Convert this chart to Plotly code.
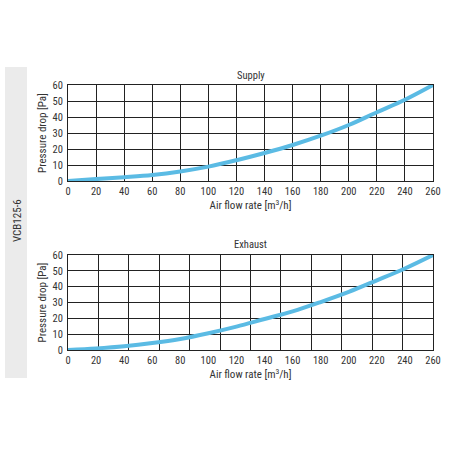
import plotly.graph_objects as go

# Donnees (debit m3/h -> perte de charge Pa)
flow = [0, 20, 40, 60, 80, 100, 120, 140, 160, 180, 200, 220, 240, 260]
supply_pa = [0, 1.2, 2.4, 3.8, 6.0, 9.0, 13.0, 17.5, 22.5, 28.3, 35.0, 43.0, 50.8, 60.0]
exhaust_pa = [0, 1.0, 2.4, 4.4, 7.0, 10.6, 14.8, 19.6, 24.4, 30.3, 36.7, 44.0, 51.5, 60.0]
x_ticks = list(range(0, 261, 20))
y_ticks = [0, 10, 20, 30, 40, 50, 60]
model = "VCB125-6"

W = 456
H = 456
blue = "#5bbbe4"
txt = "#333333"
font_name = "Roboto Condensed, Liberation Sans Narrow, Roboto, sans-serif"


def py(px):
    return 1 - px / H


fig = go.Figure()
fig.add_trace(go.Scatter(x=flow, y=supply_pa, mode="lines", line=dict(color=blue, width=4, shape="spline"),
                         xaxis="x", yaxis="y", hoverinfo="skip"))
fig.add_trace(go.Scatter(x=flow, y=exhaust_pa, mode="lines", line=dict(color=blue, width=4, shape="spline"),
                         xaxis="x2", yaxis="y2", hoverinfo="skip"))
# trace vide pour la grille de la 2e courbe (12 colonnes)
fig.add_trace(go.Scatter(x=[0, 12], y=[0, 60], mode="markers", marker=dict(opacity=0),
                         xaxis="x3", yaxis="y2", hoverinfo="skip"))

xdom = [68 / W, 433 / W]
common_x = dict(range=[0, 260], tickvals=x_ticks, ticks="", showline=True, linecolor="#222", mirror=True,
                tickfont=dict(size=10.5, color=txt), zeroline=False, fixedrange=True, automargin=False)
common_y = dict(range=[0, 60], tickvals=y_ticks, ticks="", showline=True, linecolor="#222", mirror=True,
                showgrid=True, gridcolor="#222", gridwidth=1, tickfont=dict(size=10.5, color=txt),
                zeroline=False, ticklabelstandoff=2, automargin=False, fixedrange=True,
                title=dict(text="Pressure drop [Pa]", font=dict(size=11, color=txt), standoff=3))

fig.update_layout(
    width=W, height=H,
    margin=dict(l=0, r=0, t=0, b=0),
    paper_bgcolor="white", plot_bgcolor="white",
    showlegend=False,
    font=dict(family=font_name, color=txt),
    xaxis=dict(common_x, domain=xdom, anchor="y", showgrid=True, gridcolor="#222",
               title=dict(text="Air flow rate [m<sup>3</sup>/h]", font=dict(size=11, color=txt), standoff=2)),
    yaxis=dict(common_y, domain=[py(181), py(85)], anchor="x"),
    xaxis2=dict(common_x, domain=xdom, anchor="y2", showgrid=False,
                title=dict(text="Air flow rate [m<sup>3</sup>/h]", font=dict(size=11, color=txt), standoff=2)),
    yaxis2=dict(common_y, domain=[py(350), py(255)], anchor="x2"),
    xaxis3=dict(range=[0, 12], dtick=1, overlaying="x2", anchor="y2", showgrid=True, gridcolor="#222",
                showticklabels=False, ticks="", zeroline=False, fixedrange=True, side="top",
                automargin=False),
)

fig.add_shape(type="rect", xref="paper", yref="paper", x0=5 / W, x1=27 / W, y0=py(378), y1=py(67),
              fillcolor="#ebebeb", line=dict(width=0), layer="below")
fig.add_annotation(text=model, xref="paper", yref="paper", x=17 / W, y=py(221), showarrow=False,
                   textangle=-90, xanchor="center", yanchor="middle", font=dict(size=11, color=txt))
fig.add_annotation(text="Supply", xref="paper", yref="paper", x=251 / W, y=py(76), showarrow=False,
                   xanchor="center", yanchor="middle", font=dict(size=10.5, color=txt))
fig.add_annotation(text="Exhaust", xref="paper", yref="paper", x=250 / W, y=py(245), showarrow=False,
                   xanchor="center", yanchor="middle", font=dict(size=10.5, color=txt))

# la page a une marge de 8px par defaut : on la retire
fig.write_html("out.html", config={"displayModeBar": False},
               post_script="document.body.style.margin='0px';")
